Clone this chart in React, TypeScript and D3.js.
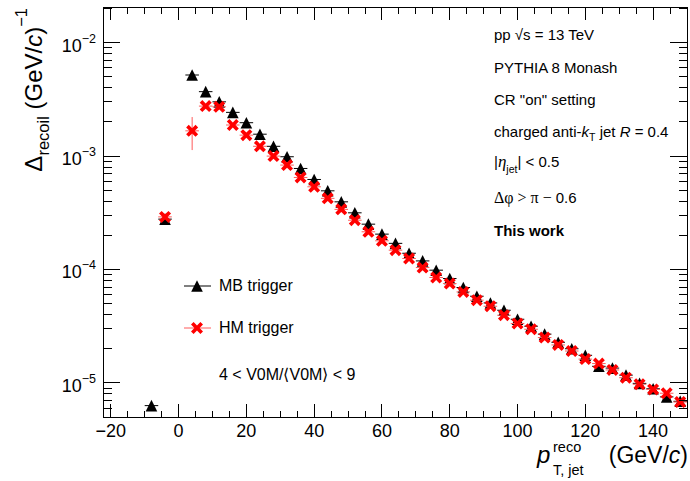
import React from "react";
import * as d3 from "d3";

// Bin centres (GeV/c) and recoil distributions for both trigger classes
const ptMB = [-8, -4, 4, 8, 12, 16, 20, 24, 28, 32, 36, 40, 44, 48, 52, 56, 60, 64, 68, 72, 76, 80, 84, 88, 92, 96, 100, 104, 108, 112, 116, 120, 124, 128, 132, 136, 140, 144, 148];
const deltaMB = [6.3e-6, 2.78e-4, 5.19e-3, 3.7e-3, 3.01e-3, 2.43e-3, 1.97e-3, 1.56e-3, 1.22e-3, 9.87e-4, 7.78e-4, 6.22e-4, 4.94e-4, 3.95e-4, 3.16e-4, 2.51e-4, 2.05e-4, 1.7e-4, 1.39e-4, 1.19e-4, 9.86e-5, 8.32e-5, 6.93e-5, 5.81e-5, 5.07e-5, 4.37e-5, 3.64e-5, 3.16e-5, 2.69e-5, 2.28e-5, 2.0e-5, 1.75e-5, 1.4e-5, 1.35e-5, 1.17e-5, 9.9e-6, 8.87e-6, 7.52e-6, 6.88e-6];

const ptHM = [-4, 4, 8, 12, 16, 20, 24, 28, 32, 36, 40, 44, 48, 52, 56, 60, 64, 68, 72, 76, 80, 84, 88, 92, 96, 100, 104, 108, 112, 116, 120, 124, 128, 132, 136, 140, 144, 148];
const deltaHM = [2.91e-4, 1.67e-3, 2.76e-3, 2.72e-3, 1.88e-3, 1.53e-3, 1.22e-3, 1.0e-3, 8.33e-4, 6.48e-4, 5.36e-4, 4.24e-4, 3.39e-4, 2.72e-4, 2.15e-4, 1.79e-4, 1.48e-4, 1.25e-4, 1.04e-4, 8.5e-5, 7.51e-5, 6.34e-5, 5.36e-5, 4.74e-5, 3.95e-5, 3.34e-5, 2.97e-5, 2.51e-5, 2.16e-5, 1.91e-5, 1.62e-5, 1.48e-5, 1.3e-5, 1.11e-5, 9.72e-6, 8.75e-6, 8.1e-6, 6.78e-6];
// statistical uncertainty of the HM points (only the first non-empty bins are sizeable)
const errHM = [1.0e-5, 5.4e-4, 1.2e-4, 8.0e-5, 3.0e-5, 2.0e-5, 1.5e-5, 1.0e-5, 8.0e-6, 6.0e-6, 5.0e-6, 4.0e-6, 3.0e-6, 2.5e-6, 2.0e-6, 1.6e-6, 1.3e-6, 1.1e-6, 9.0e-7, 8.0e-7, 7.0e-7, 6.0e-7, 5.0e-7, 4.5e-7, 4.0e-7, 3.5e-7, 3.0e-7, 2.7e-7, 2.4e-7, 2.2e-7, 2.0e-7, 1.8e-7, 1.6e-7, 1.5e-7, 1.4e-7, 1.3e-7, 1.2e-7, 1.1e-7];
const binHalfWidth = 2;

const xTicks = [-20, 0, 20, 40, 60, 80, 100, 120, 140];
const yDecades = [1e-5, 1e-4, 1e-3, 1e-2];
const yDecadeExp = ["\u22125", "\u22124", "\u22123", "\u22122"];

const legendLabels = ["MB trigger", "HM trigger"];
const legendNote = "4 < V0M/\u27E8V0M\u27E9 < 9";

const SANS = "'Liberation Sans', Arial, Helvetica, sans-serif";
const SERIF = "'Liberation Serif', 'Times New Roman', serif";

function trianglePath(cx: number, cy: number, s: number) {
  return `M${cx},${cy - s}L${cx + s},${cy + s}L${cx - s},${cy + s}Z`;
}

function crossXPath(cx: number, cy: number, s: number, t: number) {
  const p = [
    [0, -t], [s - t, -s], [s, -s + t], [t, 0], [s, s - t], [s - t, s],
    [0, t], [-s + t, s], [-s, s - t], [-t, 0], [-s, -s + t], [-s + t, -s],
  ];
  return "M" + p.map(([a, b]) => `${cx + a},${cy + b}`).join("L") + "Z";
}

export default function App() {
  const W = 690, H = 481;
  const frame = { left: 103, right: 687, top: 7, bottom: 417 };
  const x = d3.scaleLinear().domain([-22.3, 150]).range([frame.left, frame.right]);
  const y = d3.scaleLog().domain([5e-6, 2.065e-2]).range([frame.bottom, frame.top]);

  const xMinor = d3.range(-20, 151, 5).filter((v) => v % 20 !== 0);
  const yMinor: number[] = [];
  [1e-6, 1e-5, 1e-4, 1e-3, 1e-2].forEach((d) => {
    for (let k = 2; k <= 9; k++) {
      const v = k * d;
      if (v >= 5e-6 && v <= 2.065e-2) yMinor.push(v);
    }
  });

  const xMaj = 13, xMin = 6.5, yMaj = 17, yMin = 8.5;
  const red = "#ff0000";
  const errRed = "#ff5a5a";

  const tickLines: JSX.Element[] = [];
  xTicks.forEach((v, i) => {
    const px = x(v);
    tickLines.push(<line key={`xb${i}`} x1={px} x2={px} y1={frame.bottom} y2={frame.bottom - xMaj} />);
    tickLines.push(<line key={`xt${i}`} x1={px} x2={px} y1={frame.top} y2={frame.top + xMaj} />);
  });
  xMinor.forEach((v, i) => {
    const px = x(v);
    tickLines.push(<line key={`xbm${i}`} x1={px} x2={px} y1={frame.bottom} y2={frame.bottom - xMin} />);
    tickLines.push(<line key={`xtm${i}`} x1={px} x2={px} y1={frame.top} y2={frame.top + xMin} />);
  });
  yDecades.forEach((v, i) => {
    const py = y(v);
    tickLines.push(<line key={`yl${i}`} x1={frame.left} x2={frame.left + yMaj} y1={py} y2={py} />);
    tickLines.push(<line key={`yr${i}`} x1={frame.right} x2={frame.right - yMaj} y1={py} y2={py} />);
  });
  yMinor.forEach((v, i) => {
    const py = y(v);
    tickLines.push(<line key={`ylm${i}`} x1={frame.left} x2={frame.left + yMin} y1={py} y2={py} />);
    tickLines.push(<line key={`yrm${i}`} x1={frame.right} x2={frame.right - yMin} y1={py} y2={py} />);
  });

  const infoX = 494;

  return (
    <svg width={W} height={H} viewBox={`0 0 ${W} ${H}`}
      style={{ position: "absolute", left: 0, top: 0, background: "#fff" }}>
      <rect x={0} y={0} width={W} height={H} fill="#fff" />

      {/* MB trigger: horizontal bin-width bars then markers */}
      <g stroke="#000" strokeWidth={1}>
        {ptMB.map((p, i) => (
          <line key={`mbh${i}`} x1={x(p - binHalfWidth)} x2={x(p + binHalfWidth)} y1={y(deltaMB[i])} y2={y(deltaMB[i])} />
        ))}
      </g>
      <g fill="#000">
        {ptMB.map((p, i) => (
          <path key={`mb${i}`} d={trianglePath(x(p), y(deltaMB[i]), 5.8)} />
        ))}
      </g>

      {/* HM trigger: error bars then markers */}
      <g stroke={errRed} strokeWidth={1}>
        {ptHM.map((p, i) => (
          <g key={`hme${i}`}>
            <line x1={x(p - binHalfWidth)} x2={x(p + binHalfWidth)} y1={y(deltaHM[i])} y2={y(deltaHM[i])} />
            <line x1={x(p)} x2={x(p)} y1={y(deltaHM[i] - errHM[i])} y2={y(deltaHM[i] + errHM[i])} />
          </g>
        ))}
      </g>
      <g fill={red}>
        {ptHM.map((p, i) => (
          <path key={`hm${i}`} d={crossXPath(x(p), y(deltaHM[i]), 6, 2.6)} />
        ))}
      </g>

      {/* frame and ticks */}
      <g stroke="#000" strokeWidth={1} shapeRendering="crispEdges">
        {tickLines}
        <rect x={frame.left} y={frame.top} width={frame.right - frame.left} height={frame.bottom - frame.top} fill="none" />
      </g>

      {/* x tick labels */}
      <g fontFamily={SANS} fontSize={18} textAnchor="middle" fill="#000">
        {xTicks.map((v, i) => (
          <text key={`xl${i}`} x={x(v)} y={436.5}>{v < 0 ? `\u2212${Math.abs(v)}` : `${v}`}</text>
        ))}
      </g>

      {/* y tick labels */}
      <g fontFamily={SANS} fill="#000" textAnchor="end">
        {yDecades.map((v, i) => (
          <text key={`yl${i}`} x={96} y={y(v) + 9} fontSize={18}>
            10<tspan fontSize={12.5} dy={-9}>{yDecadeExp[i]}</tspan>
          </text>
        ))}
      </g>

      {/* x axis title */}
      <g fontFamily={SANS} fill="#000">
        <text x={537} y={463} fontSize={24} fontStyle="italic">p</text>
        <text x={553} y={452} fontSize={14.5}>reco</text>
        <text x={553} y={475} fontSize={14.5}>T, jet</text>
        <text x={688} y={463} fontSize={23} textAnchor="end">
          (GeV/<tspan fontStyle="italic">c</tspan>)
        </text>
      </g>

      {/* y axis title */}
      <text transform="translate(42,8) rotate(-90)" fontFamily={SANS} fontSize={24} textAnchor="end" fill="#000">
        {"\u0394"}
        <tspan fontSize={16.5} dy={7}>recoil</tspan>
        <tspan dy={-7}>{" (GeV/"}</tspan>
        <tspan fontStyle="italic">c</tspan>
        <tspan>)</tspan>
        <tspan fontSize={16.5} dy={-15}>{"\u22121"}</tspan>
      </text>

      {/* annotation block */}
      <g fontFamily={SANS} fontSize={15} fill="#000">
        <text x={infoX} y={40}>pp {"\u221A"}s = 13 TeV</text>
        <text x={infoX} y={73}>PYTHIA 8 Monash</text>
        <text x={infoX} y={105}>CR "on" setting</text>
        <text x={infoX} y={137}>
          charged anti-<tspan fontStyle="italic">k</tspan>
          <tspan fontSize={10.5} dy={4}>T</tspan>
          <tspan dy={-4}> jet </tspan>
          <tspan fontStyle="italic">R</tspan> = 0.4
        </text>
        <text x={infoX} y={167}>
          |<tspan fontFamily={SERIF} fontStyle="italic" fontSize={17}>{"\u03B7"}</tspan>
          <tspan fontSize={10.5} dy={6}>jet</tspan>
          <tspan dy={-6}>| &lt; 0.5</tspan>
        </text>
        <text x={infoX} y={203}>
          <tspan fontFamily={SERIF} fontSize={16}>{"\u0394\u03C6 > \u03C0 \u2212 "}</tspan>0.6
        </text>
        <text x={infoX} y={236} fontWeight="bold">This work</text>
      </g>

      {/* legend */}
      <g>
        <line x1={184} x2={211} y1={286} y2={286} stroke="#000" strokeWidth={1} />
        <path d={trianglePath(197, 286, 5.8)} fill="#000" />
        <line x1={184} x2={211} y1={328} y2={328} stroke={errRed} strokeWidth={1} />
        <path d={crossXPath(197, 328, 6, 2.6)} fill={red} />
        <g fontFamily={SANS} fontSize={16} fill="#000">
          <text x={219} y={291}>{legendLabels[0]}</text>
          <text x={219} y={333}>{legendLabels[1]}</text>
          <text x={219} y={380}>{legendNote}</text>
        </g>
      </g>
    </svg>
  );
}
